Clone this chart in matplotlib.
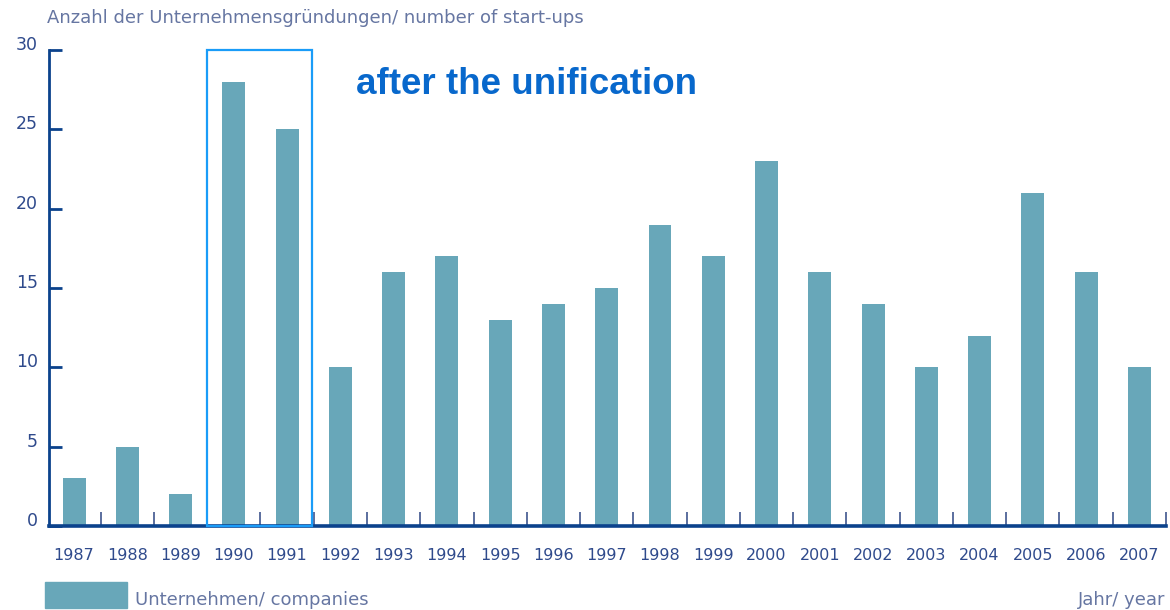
import numpy as np
import matplotlib.pyplot as plt
from matplotlib.patches import Rectangle

years = [1987, 1988, 1989, 1990, 1991, 1992, 1993, 1994, 1995, 1996, 1997,
         1998, 1999, 2000, 2001, 2002, 2003, 2004, 2005, 2006, 2007]
companies = [3, 5, 2, 28, 25, 10, 16, 17, 13, 14, 15,
             19, 17, 23, 16, 14, 10, 12, 21, 16, 10]
highlight_years = [1990, 1991]
y_ticks = [0, 5, 10, 15, 20, 25, 30]

title = "Anzahl der Unternehmensgründungen/ number of start-ups"
legend_label = "Unternehmen/ companies"
x_label = "Jahr/ year"
note = "after the unification"

bar_color = "#68a7b9"
axis_color = "#0b428c"
label_color = "#2f4a8c"
text_grey = "#6676a2"

fig = plt.figure(figsize=(11.7, 6.1), dpi=100)
ax = fig.add_axes([0.0419, 0.1377, 0.9547, 0.7803])

x = np.arange(len(years))
ax.bar(x, companies, width=0.43, color=bar_color, zorder=2)

ax.set_xlim(-0.47, len(years) - 0.51)
ax.set_ylim(0, 30)

# spines
for side in ["top", "right"]:
    ax.spines[side].set_visible(False)
ax.spines["left"].set_color(axis_color)
ax.spines["left"].set_linewidth(2.0)
ax.spines["bottom"].set_color(axis_color)
ax.spines["bottom"].set_linewidth(2.6)

# y ticks point inwards, labels sit on top of the tick
ax.set_yticks(y_ticks)
ax.tick_params(axis="y", direction="in", length=9, width=2.0, color=axis_color,
               labelsize=12.5, labelcolor=label_color, pad=8)
for lbl in ax.get_yticklabels():
    lbl.set_verticalalignment("baseline")

# x labels under bars, small separator ticks between bars
ax.set_xticks(x)
ax.set_xticklabels([str(y) for y in years])
ax.tick_params(axis="x", which="major", length=0, labelsize=11.5,
               labelcolor=label_color, pad=16)
ax.set_xticks(x + 0.5, minor=True)
ax.tick_params(axis="x", which="minor", direction="in", length=10, width=1.4,
               color="#5a6e9e")

# highlight box around the post-unification years
i0 = years.index(highlight_years[0])
i1 = years.index(highlight_years[-1])
box = Rectangle((i0 - 0.5, 0), (i1 - i0) + 0.96, 30, fill=False,
                edgecolor="#1a9cf8", linewidth=1.6, clip_on=False, zorder=3)
ax.add_patch(box)
ax.text(i1 + 1.3, 27.2, note, fontsize=26.5, fontweight="bold", color="#0868cc",
        family="Liberation Sans", va="baseline", ha="left")

# header and footer texts
fig.text(47 / 1170, 1 - 18 / 610, title, fontsize=13, color=text_grey,
         va="center", ha="left")
fig.patches.append(Rectangle((45 / 1170, 2 / 610), 82 / 1170, 26 / 610,
                             transform=fig.transFigure, color=bar_color))
fig.text(135 / 1170, 1 - 600 / 610, legend_label, fontsize=13, color=text_grey,
         va="center", ha="left")
fig.text(1165 / 1170, 1 - 600 / 610, x_label, fontsize=13, color=text_grey,
         va="center", ha="right")

fig.savefig("out.png", dpi=100)
